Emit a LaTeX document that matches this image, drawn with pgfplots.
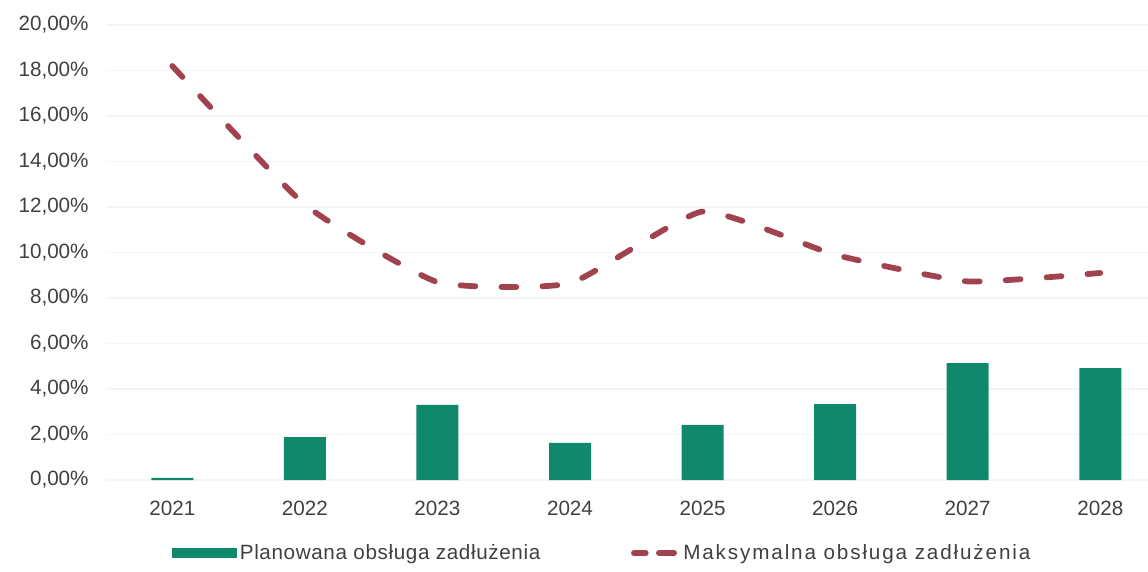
\documentclass[border=0pt]{standalone}
\usepackage{fontspec}
\setmainfont{Liberation Sans}
\usepackage{pgfplots}
\pgfplotsset{compat=1.18}
\definecolor{barg}{HTML}{0F886B}
\definecolor{linr}{HTML}{A1434F}
\definecolor{txt}{HTML}{404040}
\begin{document}
\begin{tikzpicture}
\useasboundingbox (-79.5pt,-68.25pt) rectangle (781.5pt,360pt);
\begin{axis}[
  at={(0pt,0pt)}, anchor=south west,
  scale only axis, width=781.5pt, height=341.25pt,
  xmin=-0.5, xmax=7.36, ymin=0, ymax=20,
  xtick={0,1,2,3,4,5,6,7},
  xticklabels={2021,2022,2023,2024,2025,2026,2027,2028},
  ytick={0,2,4,6,8,10,12,14,16,18,20},
  yticklabels={{0,00\%},{2,00\%},{4,00\%},{6,00\%},{8,00\%},{10,00\%},{12,00\%},{14,00\%},{16,00\%},{18,00\%},{20,00\%}},
  axis line style={draw=none}, tick style={draw=none},
  ymajorgrids, grid style={color=black!4, line width=0.8pt},
  ticklabel style={font=\fontsize{15.5}{17}\selectfont, text=txt},
  yticklabel style={xshift=-9.5pt},
  xticklabel style={yshift=-12pt},
  clip=false,
  legend columns=2,
  legend cell align=left,
  legend style={at={(0.0633,-0.1604)}, anchor=west, draw=none, fill=none, inner sep=0pt,
    font=\fontsize{15.5}{17}\selectfont, text=txt,
    /tikz/every even column/.append style={column sep=66pt}},
]
\addplot[ybar, bar width=31.5pt, fill=barg, draw=none,
  legend image code/.code={\fill[barg] (0pt,-3.75pt) rectangle (48.75pt,3.75pt);}]
  coordinates {(0,0.09) (1,1.89) (2,3.3) (3,1.63) (4,2.42) (5,3.34) (6,5.14) (7,4.92)};
\addlegendentry{\addfontfeature{LetterSpace=3}Planowana obsługa zadłużenia}
\addplot[smooth, tension=0.28, linr, line width=4.3pt, line cap=round, dash pattern=on 11.25pt off 19.5pt,
  legend image code/.code={\draw[linr, line width=4.5pt, line cap=round] (2.25pt,0pt)--(11pt,0pt) (21pt,0pt)--(35pt,0pt);}]
  coordinates {(0,18.2) (1,12.1) (2,8.7) (3,8.65) (4,11.8) (5,9.9) (6,8.73) (7,9.1)};
\addlegendentry{\addfontfeature{LetterSpace=9}Maksymalna obsługa zadłużenia}
\end{axis}
\end{tikzpicture}
\end{document}
